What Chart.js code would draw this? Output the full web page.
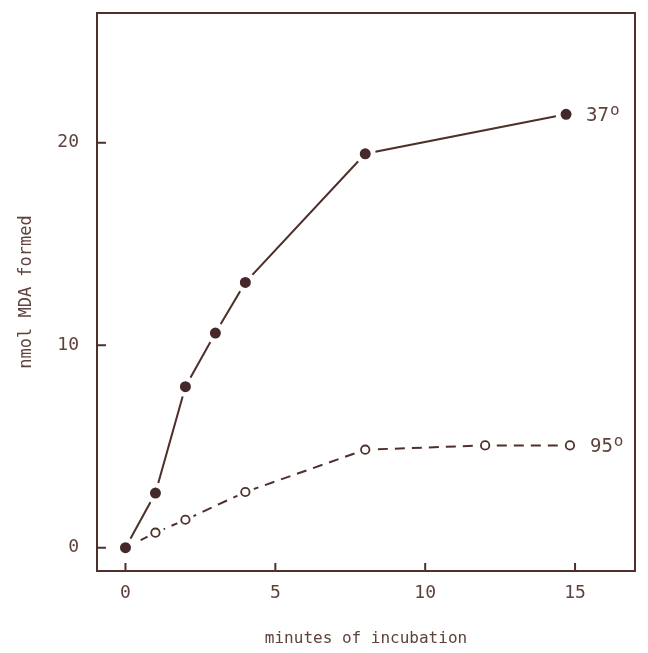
<!DOCTYPE html>
<html>
<head>
<meta charset="utf-8">
<script src="https://cdn.jsdelivr.net/npm/chart.js@4/dist/chart.umd.min.js"></script>
<style>
  html, body { margin: 0; padding: 0; background: #ffffff; }
  #wrap { width: 648px; height: 653px; position: relative; }
</style>
</head>
<body>
<div id="wrap"><canvas id="c" width="648" height="653"></canvas></div>
<script>
// ---- data ----
const minutes37 = [0, 1, 2, 3, 4, 8, 14.7];
const mda37     = [0, 2.7, 7.95, 10.6, 13.1, 19.45, 21.4];
const minutes95 = [0, 1, 2, 4, 8, 12, 14.83];
const mda95     = [0, 0.74, 1.38, 2.75, 4.84, 5.05, 5.05];
const seriesNames = ['37', '95'];
const degreeMark = 'o';
const xTickValues = [0, 5, 10, 15];
const yTickValues = [0, 10, 20];
const xTitle = 'minutes of incubation';
const yTitle = 'nmol MDA formed';

const INK = '#4e302b';
const DOT = '#45282a';
const TEXT = '#5e423c';
const HALO = '#ffffff';
const FONT = '"DejaVu Sans Mono", "Liberation Mono", monospace';

const pts = (xs, ys) => xs.map((x, i) => ({ x: x, y: ys[i] }));

const framePlugin = {
  id: 'frame',
  beforeDatasetsDraw(chart) {
    const { ctx, chartArea: a, scales } = chart;
    ctx.save();
    ctx.strokeStyle = INK;
    ctx.lineWidth = 2;
    ctx.strokeRect(a.left, a.top, a.right - a.left, a.bottom - a.top);
    ctx.beginPath();
    xTickValues.forEach(v => {
      const px = scales.x.getPixelForValue(v);
      ctx.moveTo(px, a.bottom);
      ctx.lineTo(px, a.bottom - 8);
    });
    yTickValues.forEach(v => {
      const py = scales.y.getPixelForValue(v);
      ctx.moveTo(a.left, py);
      ctx.lineTo(a.left + 9, py);
    });
    ctx.stroke();
    ctx.restore();
  },
  afterDatasetsDraw(chart) {
    const { ctx } = chart;
    ctx.save();
    ctx.fillStyle = TEXT;
    ctx.textBaseline = 'alphabetic';
    ctx.textAlign = 'left';
    [0, 2].forEach((dsIndex, k) => {
      const meta = chart.getDatasetMeta(dsIndex);
      const last = meta.data[meta.data.length - 1];
      const x0 = last.x + 20;
      const y0 = last.y + 7;
      ctx.font = '19px ' + FONT;
      ctx.fillText(seriesNames[k], x0, y0);
      const w = ctx.measureText(seriesNames[k]).width;
      ctx.font = '16px ' + FONT;
      ctx.fillText(degreeMark, x0 + w + 1, y0 - 6);
    });
    ctx.restore();
  }
};

new Chart(document.getElementById('c'), {
  type: 'line',
  data: {
    datasets: [
      { // 37: line + filled dots with a white halo border (drawn last = on top)
        data: pts(minutes37, mda37), borderColor: INK, borderWidth: 2,
        pointStyle: 'circle', pointRadius: 8, pointBackgroundColor: DOT,
        pointBorderColor: HALO, pointBorderWidth: 5, fill: false, tension: 0
      },
      { // 95 rings
        data: pts(minutes95, mda95), showLine: false, pointStyle: 'circle',
        pointRadius: 4.2, pointBackgroundColor: '#ffffff',
        pointBorderColor: INK, pointBorderWidth: 1.8
      },
      { // 95 dashed line + white halo discs (drawn first)
        data: pts(minutes95, mda95), borderColor: INK, borderWidth: 2,
        borderDash: [10, 7], pointStyle: 'circle', pointRadius: 9,
        pointBackgroundColor: HALO, pointBorderWidth: 0, fill: false, tension: 0
      }
    ]
  },
  options: {
    responsive: false,
    animation: false,
    events: [],
    layout: { padding: { top: 0, right: 4, left: 0, bottom: 0 } },
    plugins: { legend: { display: false }, tooltip: { enabled: false } },
    scales: {
      x: {
        type: 'linear', min: -0.95, max: 17,
        afterBuildTicks: s => { s.ticks = xTickValues.map(v => ({ value: v })); },
        afterFit: s => { s.height = 82; s.paddingLeft = 0; s.paddingRight = 0; },
        grid: { display: false, drawTicks: false },
        border: { display: false },
        ticks: { color: TEXT, font: { family: FONT, size: 18 }, padding: 12, maxRotation: 0 },
        title: { display: true, text: xTitle, color: TEXT, font: { family: FONT, size: 16 }, padding: { top: 0, bottom: 5 } }
      },
      y: {
        type: 'linear', min: -1.15, max: 26.4,
        afterBuildTicks: s => { s.ticks = yTickValues.map(v => ({ value: v })); },
        afterFit: s => { s.width = 97; s.paddingTop = 0; s.paddingBottom = 0; },
        grid: { display: false, drawTicks: false },
        border: { display: false },
        ticks: { color: TEXT, font: { family: FONT, size: 18 }, padding: 18 },
        title: { display: true, text: yTitle, color: TEXT, font: { family: FONT, size: 17 }, padding: { top: 16, bottom: 0 } }
      }
    }
  },
  plugins: [framePlugin]
});
</script>
</body>
</html>
